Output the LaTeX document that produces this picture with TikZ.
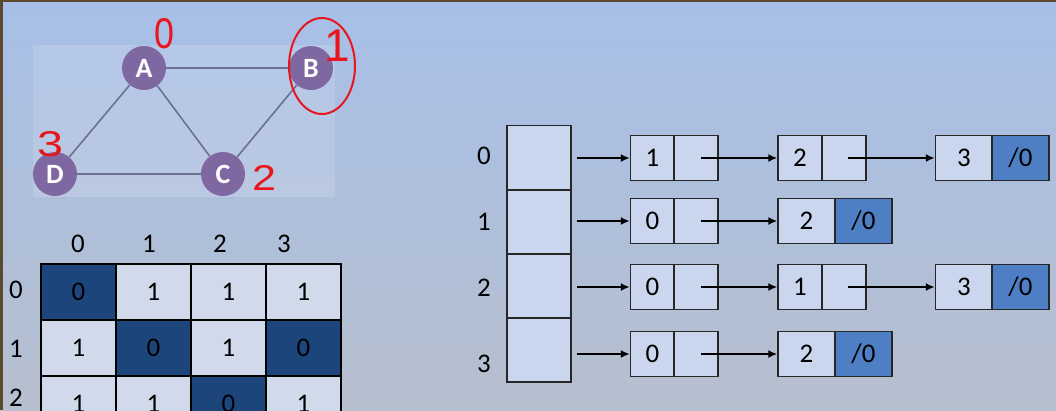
\documentclass[tikz,border=0pt]{standalone}
\usepackage{fontspec}
\setmainfont{Carlito}
\newfontfamily\handfont{Liberation Sans}
\usetikzlibrary{arrows.meta}

\definecolor{bgtop}{HTML}{A7BFE8}
\definecolor{bgmid}{HTML}{C5D4EE}
\definecolor{bgbot}{HTML}{B6BFCE}
\definecolor{vertfill}{HTML}{7F68A2}
\definecolor{edgecol}{HTML}{6C6F90}
\definecolor{cellfill}{HTML}{CAD6ED}
\definecolor{matlight}{HTML}{D0DAEA}
\definecolor{matdark}{HTML}{1C467B}
\definecolor{nullfill}{HTML}{4E7EC4}
\definecolor{inkred}{HTML}{E8161C}
\definecolor{framebrown}{HTML}{5B4A2E}

\tikzset{
  vert/.style={circle,fill=vertfill,minimum size=44bp,inner sep=0pt,text=white,
    font=\fontsize{28}{30}\selectfont\bfseries},
  gedge/.style={edgecol,line width=1.6pt},
  num/.style={font=\fontsize{27}{30}\selectfont,inner sep=0pt},
  mcell/.style={draw=black,line width=1.4pt,fill=matlight,minimum width=75bp,
    minimum height=56bp,inner sep=0pt,num},
  mdark/.style={mcell,fill=matdark},
  acell/.style={draw=black!85,line width=1.4pt,fill=cellfill,minimum width=64bp,
    minimum height=64bp,inner sep=0pt},
  lcell/.style={draw=black!85,line width=1.4pt,fill=cellfill,minimum width=44bp,
    minimum height=45bp,inner sep=0pt,num},
  lwide/.style={lcell,minimum width=57bp},
  lnull/.style={lwide,fill=nullfill},
  ptr/.style={-{Latex[length=9bp,width=8bp]},line width=2.5pt},
  handmark/.style={text=inkred,font=\handfont\fontsize{36}{38}\selectfont,inner sep=0pt}
}

\begin{document}
\begin{tikzpicture}[x=1bp,y=-1bp]
  \useasboundingbox (0,0) rectangle (1056,410);
  \clip (0,0) rectangle (1056,410);
  % backdrop of the slide
  \shade[top color=bgtop,middle color=bgmid,bottom color=bgbot] (0,0) rectangle (1056,410);
  \fill[framebrown] (0,0) rectangle (3,410);
  \fill[framebrown] (0,0) rectangle (1056,2);
  \fill[white,opacity=0.15] (33,45) rectangle (335,197);

  % graph
  \node[vert] (A) at (144,68) {A};
  \node[vert] (B) at (311,68) {B};
  \node[vert] (C) at (223,174) {C};
  \node[vert] (D) at (55,174) {D};
  \draw[gedge] (A) -- (B) (A) -- (D) (A) -- (C) (B) -- (C) (D) -- (C);

  % pen marks
  \node[handmark,yscale=1.2] (mA) at (164,34) {0};
  \node[handmark,font=\handfont\fontsize{46}{48}\selectfont] (mB) at (337,46) {1};
  \draw[inkred,line width=2pt] (322,66) ellipse (33bp and 48bp);
  \node[handmark,xscale=1.3] (mD) at (50,144) {3};
  \node[handmark,xscale=1.2] (mC) at (264,178) {2};

  % adjacency matrix
  \foreach \x/\t in {78/0,149/1,220/2,284/3}
    \node[num] (h\t) at (\x,244) {\t};
  \foreach \y/\t in {290/0,349/1,398/2}
    \node[num] (r\t) at (16,\y) {\t};
  \foreach \r/\vals in {0/{0,1,1,1},1/{1,0,1,0},2/{1,1,0,1}} {
    \foreach \v [count=\c from 0] in \vals {
      \ifnum\v=0 \def\sty{mdark}\else\def\sty{mcell}\fi
      \node[\sty] (m\r\c) at ({78.5+75*\c},{292+56*\r}) {\v};
    }
  }

  % adjacency list
  \foreach \i/\y/\ly in {0/157.5/156,1/222/222,2/286/288,3/350/364} {
    \node[acell] (a\i) at (539,\y) {};
    \node[num] (al\i) at (484,\ly) {\i};
  }

  \node[lcell] (d01) at (652.5,158) {1};
  \node[lcell] (p01) at (696,158) {};
  \node[lcell] (d02) at (800,158) {2};
  \node[lcell] (p02) at (844,158) {};
  \node[lwide] (d03) at (964,158) {3};
  \node[lnull] (p03) at (1020.5,158) {/0};

  \node[lcell] (d11) at (652.5,221) {0};
  \node[lcell] (p11) at (696,221) {};
  \node[lwide] (d12) at (806.5,221) {2};
  \node[lnull] (p12) at (863.5,221) {/0};

  \node[lcell] (d21) at (652.5,287) {0};
  \node[lcell] (p21) at (696,287) {};
  \node[lcell] (d22) at (800,287) {1};
  \node[lcell] (p22) at (844,287) {};
  \node[lwide] (d23) at (964,287) {3};
  \node[lnull] (p23) at (1020.5,287) {/0};

  \node[lcell] (d31) at (652.5,354) {0};
  \node[lcell] (p31) at (696,354) {};
  \node[lwide] (d32) at (806.5,354) {2};
  \node[lnull] (p32) at (863.5,354) {/0};

  \foreach \i in {0,1,2,3}
    \draw[ptr,shorten <=5bp] (a\i.east |- d\i1) -- (d\i1.west);
  \draw[ptr] ([xshift=5bp]p01.center) -- (d02.west);
  \draw[ptr] ([xshift=4bp]p02.center) -- (d03.west);
  \draw[ptr] ([xshift=5bp]p11.center) -- (d12.west);
  \draw[ptr] ([xshift=5bp]p21.center) -- (d22.west);
  \draw[ptr] ([xshift=4bp]p22.center) -- (d23.west);
  \draw[ptr] ([xshift=5bp]p31.center) -- (d32.west);
\end{tikzpicture}
\end{document}
